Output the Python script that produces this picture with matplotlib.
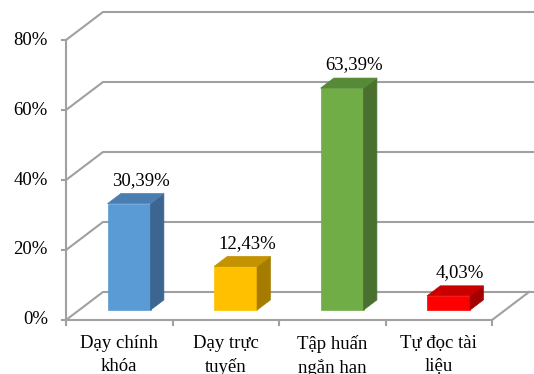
import matplotlib.pyplot as plt
from matplotlib.patches import Polygon

categories = ["Dạy chính\nkhóa", "Dạy trực\ntuyến", "Tập huấn\nngắn hạn", "Tự đọc tài\nliệu"]
values = [30.39, 12.43, 63.39, 4.03]
value_labels = ["30,39%", "12,43%", "63,39%", "4,03%"]
y_ticks = [0, 20, 40, 60, 80]
y_tick_labels = ["0%", "20%", "40%", "60%", "80%"]

# front / side / top colours for each bar
front_colors = ["#5B9BD5", "#FFC000", "#70AD47", "#FF0000"]
side_colors = ["#3C6690", "#A67C00", "#4A7030", "#A50000"]
top_colors = ["#4A7EB0", "#C49300", "#568A36", "#C80000"]

plt.rcParams['font.family'] = ['Liberation Serif', 'DejaVu Serif']
FS = 13.5
GRID = "#A0A0A0"

# depth of the 3d box, in data units
DX = 0.347
DY = 8.0


def main():
    fig = plt.figure(figsize=(5.34, 3.74), dpi=100)
    ax = fig.add_axes([0, 0, 1, 1])
    ax.set_xlim(-1.1197, 3.894)
    ax.set_ylim(-15.43, 91.43)
    ax.axis('off')

    x_left = -0.5
    x_right = len(categories) - 0.5
    x_far = 3.894

    # back wall gridlines
    for t, lab in zip(y_ticks, y_tick_labels):
        ax.plot([x_left, x_left + DX, x_far], [t, t + DY, t + DY], color=GRID, lw=1.5, zorder=1)
        ax.plot([x_left - 0.035, x_left], [t, t], color=GRID, lw=1.5, zorder=1)
        ax.text(x_left - 0.17, t, lab, ha='right', va='center', fontsize=FS)
    # floor
    ax.plot([x_left, x_right, x_right + DX], [0, 0, DY], color=GRID, lw=1.5, zorder=1)
    ax.plot([x_left, x_left], [0, y_ticks[-1]], color=GRID, lw=1.5, zorder=1)
    for k in range(len(categories) + 1):
        ax.plot([x_left + k, x_left + k], [0, -1.4], color=GRID, lw=1.5, zorder=1)

    # bars
    w = 0.404
    f0 = 0.357  # depth where the front face sits
    bd = 0.36   # bar depth fraction
    sdx, sdy = bd * DX, bd * DY
    for i, v in enumerate(values):
        x0 = i - 0.5 + 0.39
        x1 = x0 + w
        y0 = f0 * DY
        y1 = y0 + v
        front = Polygon([(x0, y0), (x1, y0), (x1, y1), (x0, y1)], closed=True,
                        facecolor=front_colors[i], edgecolor=front_colors[i], lw=0.5, zorder=3)
        side = Polygon([(x1, y0), (x1 + sdx, y0 + sdy), (x1 + sdx, y1 + sdy), (x1, y1)], closed=True,
                       facecolor=side_colors[i], edgecolor=side_colors[i], lw=0.5, zorder=3)
        top = Polygon([(x0, y1), (x1, y1), (x1 + sdx, y1 + sdy), (x0 + sdx, y1 + sdy)], closed=True,
                      facecolor=top_colors[i], edgecolor=top_colors[i], lw=0.5, zorder=3)
        ax.add_patch(front)
        ax.add_patch(side)
        ax.add_patch(top)
        ax.text((x0 + x1) / 2 + 0.11, y1 + sdy + 3.8, value_labels[i], ha='center', va='center',
                fontsize=FS, zorder=4)

    # category labels
    for i, c in enumerate(categories):
        ax.text(i, -4.3, c, ha='center', va='top', fontsize=FS, linespacing=1.42)

    fig.savefig("out.png", dpi=100)


if __name__ == '__main__':
    main()
